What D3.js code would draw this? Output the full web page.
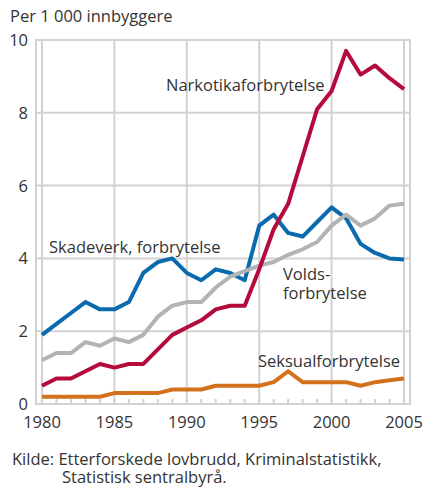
<!DOCTYPE html>
<html><head><meta charset="utf-8">
<script src="https://cdn.jsdelivr.net/npm/d3@7"></script>
<style>
html,body{margin:0;padding:0;background:#fff;}
svg text{font-family:"Open Sans",sans-serif;fill:#333;}
</style></head>
<body><svg id="c" width="425" height="490"></svg>
<script>
const years = d3.range(1980, 2006);
const skadeverk = [1.9,2.2,2.5,2.8,2.6,2.6,2.8,3.6,3.9,4.0,3.6,3.4,3.7,3.6,3.4,4.9,5.2,4.7,4.6,5.0,5.4,5.1,4.4,4.15,4.0,3.97];
const volds     = [1.2,1.4,1.4,1.7,1.6,1.8,1.7,1.9,2.4,2.7,2.8,2.8,3.2,3.5,3.65,3.8,3.9,4.1,4.25,4.45,4.9,5.2,4.9,5.1,5.45,5.5];
const narkotika = [0.5,0.7,0.7,0.9,1.1,1.0,1.1,1.1,1.5,1.9,2.1,2.3,2.6,2.7,2.7,3.7,4.8,5.5,6.8,8.1,8.6,9.7,9.05,9.3,8.95,8.65];
const seksual   = [0.2,0.2,0.2,0.2,0.2,0.3,0.3,0.3,0.3,0.4,0.4,0.4,0.5,0.5,0.5,0.5,0.6,0.9,0.6,0.6,0.6,0.6,0.5,0.6,0.65,0.7];
const yTicks = [0,2,4,6,8,10];
const xTicks = [1980,1985,1990,1995,2000,2005];
const yTitle = "Per 1 000 innbyggere";
const source = ["Kilde: Etterforskede lovbrudd, Kriminalstatistikk,", "Statistisk sentralbyrå."];

const svg = d3.select("#c");
const x = d3.scaleLinear().domain([1980,2005]).range([42,404]);
const y = d3.scaleLinear().domain([0,10]).range([404,40]);
const grid = "#d2d2d2";
const fs = "16.5px";

// vertical gridlines
svg.selectAll("line.vg").data(xTicks).join("line")
  .attr("x1",d=>x(d)).attr("x2",d=>x(d)).attr("y1",y(10)).attr("y2",y(0))
  .attr("stroke",grid).attr("stroke-width",2);
// horizontal gridlines
svg.selectAll("line.hg").data(yTicks).join("line")
  .attr("x1",x(1980)-6).attr("x2",x(2005)+6).attr("y1",d=>y(d)).attr("y2",d=>y(d))
  .attr("stroke",grid).attr("stroke-width",2);
// frame sides
[x(1980)-6, x(2005)+6].forEach(xx=>{
  svg.append("line").attr("x1",xx).attr("x2",xx).attr("y1",y(10)-1).attr("y2",y(0)+1)
    .attr("stroke",grid).attr("stroke-width",2);
});
// minor year ticks
svg.selectAll("line.mt").data(years).join("line")
  .attr("x1",d=>x(d)).attr("x2",d=>x(d)).attr("y1",y(0)).attr("y2",y(0)-5)
  .attr("stroke",grid).attr("stroke-width",2);

const line = d3.line().x((d,i)=>x(years[i])).y(d=>y(d)).curve(d3.curveLinear);
const series = [
  {v:skadeverk, c:"#0a6aae"},
  {v:volds, c:"#b3b3b4"},
  {v:narkotika, c:"#b50a3c"},
  {v:seksual, c:"#d4711c"}
];
series.forEach(s=>{
  svg.append("path").attr("d",line(s.v)).attr("fill","none")
    .attr("stroke",s.c).attr("stroke-width",4).attr("stroke-linejoin","round");
});

// y tick labels
svg.selectAll("text.yt").data(yTicks).join("text")
  .attr("x",28).attr("y",d=>y(d)).attr("dy","0.36em").attr("text-anchor","end")
  .style("font-size",fs).text(d=>d);
// x tick labels
svg.selectAll("text.xt").data(xTicks).join("text")
  .attr("x",d=>x(d)).attr("y",428).attr("text-anchor","middle")
  .style("font-size",fs).text(d=>d);

svg.append("text").attr("x",10).attr("y",22).style("font-size",fs).text(yTitle);

const labels = [
  {t:"Narkotikaforbrytelse", x:166, y:91},
  {t:"Skadeverk, forbrytelse", x:49, y:253},
  {t:"Volds-", x:283, y:280},
  {t:"forbrytelse", x:283, y:299},
  {t:"Seksualforbrytelse", x:258, y:367}
];
svg.selectAll("text.lb").data(labels).join("text")
  .attr("x",d=>d.x).attr("y",d=>d.y).style("font-size",fs).text(d=>d.t);

svg.append("text").attr("x",12).attr("y",465).style("font-size",fs).text(source[0]);
svg.append("text").attr("x",62).attr("y",483).style("font-size",fs).text(source[1]);
</script></body></html>
